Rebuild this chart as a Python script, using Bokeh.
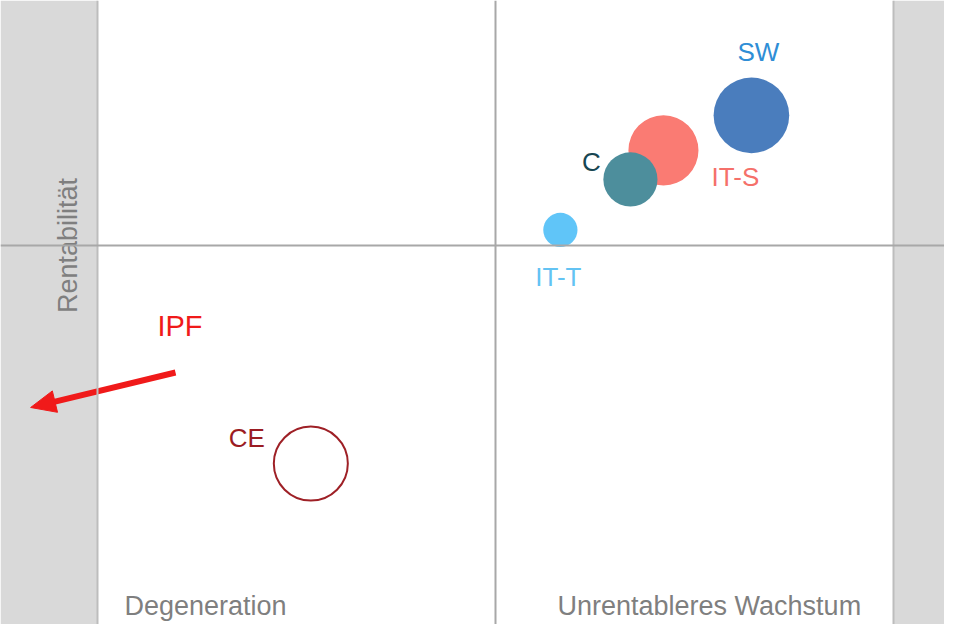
import math
from bokeh.plotting import figure
from bokeh.models import Span, BoxAnnotation, ColumnDataSource, Range1d
from bokeh.core.properties import value
from bokeh.embed import file_html
from bokeh.resources import INLINE

# ---- data ----
names = ["SW", "IT-S", "C", "IT-T"]
growth = [6.43, 4.22, 3.39, 1.63]        # x: Wachstum
profit = [3.27, 2.39, 1.66, 0.39]        # y: Rentabilität
volume = [0.95, 0.88, 0.68, 0.43]        # bubble radius (data units)

ce_name = "CE"
ce_growth = [-4.64]
ce_profit = [-5.48]
ce_volume = [0.93]

ipf_name = "IPF"
ipf_from = [-8.04, -3.19]
ipf_to = [-11.68, -4.07]

quadrant_labels = ["Degeneration", "Unrentableres Wachstum"]
y_label = "Rentabilität"
panel_limits = [-10, 10]   # edges of the white matrix area

# ---- styles ----
FONT = value("Liberation Sans")
fill_colors = ["#4a7dbd", "#fa7b73", "#4d8e9c", "#60c5f8"]
label_colors = ["#2f8ed6", "#f5706a", "#174652", "#63c3f3"]
# label offsets from bubble centre in screen pixels (dx right, dy down)
label_dx = [7, 72, -39, -2]
label_dy = [-63, 27, -17, 47]
PX = 39.8          # pixels per data unit (same on both axes)
X0, Y0 = 495, 245  # screen position of the origin

W, H = 944, 624
p = figure(width=W, height=H, output_backend="svg", toolbar_location=None,
           x_range=Range1d(-X0 / PX, (W - X0) / PX),
           y_range=Range1d(-(H - Y0) / PX, Y0 / PX),
           min_border=0, x_axis_location=None, y_axis_location=None)
p.grid.visible = False
p.background_fill_color = "white"
p.border_fill_color = "white"
p.outline_line_color = None

# grey surroundings of the matrix
GREY = "#d9d9d9"
p.add_layout(BoxAnnotation(right=panel_limits[0], fill_color=GREY, fill_alpha=1, line_color=None, level="underlay"))
p.add_layout(BoxAnnotation(left=panel_limits[1], fill_color=GREY, fill_alpha=1, line_color=None, level="underlay"))
for edge in panel_limits:
    p.add_layout(Span(location=edge, dimension="height", line_color="#bdbdbd", line_width=2))

# quadrant lines
p.add_layout(Span(location=0, dimension="width", line_color="#a8a8a8", line_width=2))
p.add_layout(Span(location=0, dimension="height", line_color="#a8a8a8", line_width=2))

src = ColumnDataSource(dict(
    x=growth, y=profit, r=volume, name=names, fill=fill_colors, tc=label_colors,
    lx=[g + dx / PX for g, dx in zip(growth, label_dx)],
    ly=[v - dy / PX for v, dy in zip(profit, label_dy)],
))
p.circle(x="x", y="y", radius="r", source=src, fill_color="fill", line_color=None)
p.text(x="lx", y="ly", text="name", source=src, text_color="tc", text_font=FONT,
       text_font_size=value("26px"), text_align="center", text_baseline="middle")

# CE (hollow)
p.circle(x=ce_growth, y=ce_profit, radius=ce_volume, fill_color=None,
         line_color="#9e2026", line_width=2)
p.text(x=[ce_growth[0] - 64 / PX], y=[ce_profit[0] + 26 / PX], text=[ce_name],
       text_color="#9b1c22", text_font=FONT, text_font_size=value("26px"),
       text_align="center", text_baseline="middle")

# IPF arrow (moving out of the chart)
RED = "#f01a1a"
dx, dy = ipf_to[0] - ipf_from[0], ipf_to[1] - ipf_from[1]
ln = math.hypot(dx, dy)
ux, uy = dx / ln, dy / ln
head_len, head_half = 25 / PX, 11 / PX
bx, by = ipf_to[0] - ux * head_len, ipf_to[1] - uy * head_len
p.segment(x0=[ipf_from[0]], y0=[ipf_from[1]], x1=[bx + ux * 2 / PX], y1=[by + uy * 2 / PX],
          line_color=RED, line_width=6)
p.patch(x=[ipf_to[0], bx - uy * head_half, bx + uy * head_half],
        y=[ipf_to[1], by + ux * head_half, by - ux * head_half],
        fill_color=RED, line_color=RED, line_width=1)
p.text(x=[ipf_from[0] + 4.5 / PX], y=[ipf_from[1] + 46 / PX], text=[ipf_name],
       text_color=RED, text_font=FONT, text_font_size=value("29px"),
       text_align="center", text_baseline="middle")

# quadrant labels (kept fully inside the canvas)
p.text(x=[(124 - X0) / PX, (557 - X0) / PX], y=[(Y0 - 620) / PX] * 2, text=quadrant_labels,
       text_color="#7f7f7f", text_font=FONT, text_font_size=value("27px"),
       text_align="left", text_baseline="bottom")

# y-axis title in the left margin
p.text(x=[(67 - X0) / PX], y=[0], text=[y_label], angle=math.pi / 2,
       text_color="#7f7f7f", text_font=FONT, text_font_size=value("27px"),
       text_align="center", text_baseline="middle")

open("out.html", "w").write(file_html(p, INLINE))
